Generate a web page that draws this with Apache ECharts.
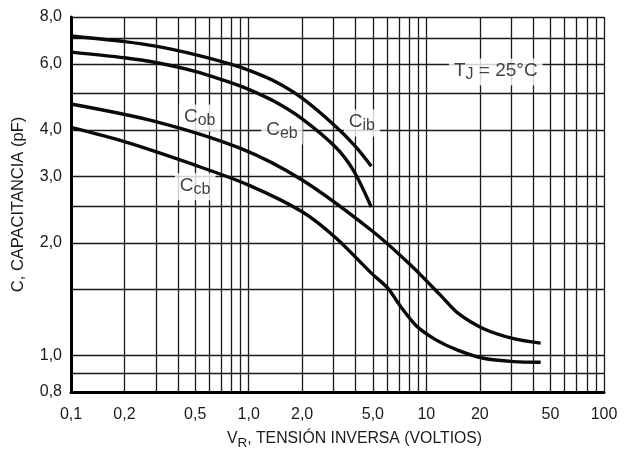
<!DOCTYPE html>
<html><head><meta charset="utf-8">
<script src="https://cdn.jsdelivr.net/npm/echarts@6/dist/echarts.min.js"></script>
<style>html,body{margin:0;padding:0;background:#fff}#c{width:624px;height:453px}</style>
</head><body><div id="c"></div>
<script>
// ---- data (V_R in volts, C in pF) ----
const cibV = [0.1, 0.2, 0.3, 0.5, 0.8, 1.0, 1.4, 2.0, 3.1, 4.0, 4.9];
const cibC = [7.12, 6.88, 6.69, 6.35, 5.98, 5.77, 5.39, 4.86, 4.08, 3.61, 3.20];
const cebV = [0.1, 0.2, 0.3, 0.5, 0.8, 1.0, 1.4, 2.0, 3.1, 3.9, 4.9];
const cebC = [6.45, 6.23, 6.05, 5.73, 5.34, 5.13, 4.76, 4.28, 3.59, 3.11, 2.49];
const cobV = [0.1, 0.3, 0.9, 2.0, 4.9, 8.1, 12, 15, 21, 31, 44];
const cobC = [4.69, 4.21, 3.57, 2.94, 2.16, 1.75, 1.45, 1.30, 1.18, 1.11, 1.08];
const ccbV = [0.1, 0.2, 0.5, 1.0, 2.0, 3.1, 4.9, 6.1, 7.1, 8.8, 11.4, 15, 21, 31, 44];
const ccbC = [4.06, 3.72, 3.22, 2.85, 2.42, 2.06, 1.66, 1.51, 1.36, 1.20, 1.10, 1.035, 0.984, 0.964, 0.96];

const xGridValues = [0.1,0.2,0.3,0.4,0.5,0.6,0.7,0.8,0.9,1,2,3,4,5,6,7,8,9,10,20,30,40,50,60,70,80,90,100];
const xLabelValues = [0.1, 0.2, 0.5, 1, 2, 5, 10, 20, 50, 100];
const xTickLabels = ['0,1','0,2','0,5','1,0','2,0','5,0','10','20','50','100'];
const yGridValues = [0.8, 0.9, 1.0, 1.5, 2.0, 2.5, 3, 4, 5, 6, 7, 8];
const yLabelValues = [0.8, 1, 2, 3, 4, 6, 8];
const yTickLabels = ['0,8','1,0','2,0','3,0','4,0','6,0','8,0'];

const curveNames = ['Cob', 'Ceb', 'Cib', 'Ccb'];
const curveLabelSub = ['ob', 'eb', 'ib', 'cb'];
const curveLabelV = [0.53, 1.54, 4.34, 0.50];
const curveLabelC = [4.30, 3.97, 4.17, 2.82];
const tempLabelV = 24.6, tempLabelC = 5.71;

const xTitle = 'TENSIÓN INVERSA (VOLTIOS)';
const yTitle = 'C, CAPACITANCIA (pF)';
// --------------------------------------

const FONT = 'Liberation Sans, Arial, sans-serif';
const L = Math.log10;
function pts(v, c) { return v.map((x, i) => [L(x), L(c[i])]); }
function labelFor(values, texts) {
  return function (val) {
    for (let i = 0; i < values.length; i++) if (Math.abs(L(values[i]) - val) < 1e-6) return texts[i];
    return '';
  };
}
const lineStyle = { color: '#0a0a0a', width: 3.4 };
function curve(name, v, c) {
  return { name, type: 'line', data: pts(v, c), smooth: 0.3, symbol: 'none', lineStyle, z: 5 };
}
const richSub = {
  m: { fontSize: 19, fontFamily: FONT, color: '#111', lineHeight: 21, verticalAlign: 'top' },
  s: { fontSize: 16, fontFamily: FONT, color: '#111', lineHeight: 16, verticalAlign: 'bottom', padding: [8, 0, 0, 0] }
};
const annData = curveNames.map((n, i) => ({
  value: [L(curveLabelV[i]), L(curveLabelC[i])],
  label: { formatter: '{m|C}{s|' + curveLabelSub[i] + '}' }
}));
annData.push({
  value: [L(tempLabelV), L(tempLabelC)],
  label: { formatter: '{m|T}{s|J}{m| = 25°C}' }
});

const chart = echarts.init(document.getElementById('c'));
chart.setOption({
  animation: false,
  backgroundColor: '#fff',
  grid: { left: 71, right: 20, top: 17, bottom: 61, containLabel: false, outerBoundsMode: 'none' },
  xAxis: {
    type: 'value', min: -1, max: 2,
    axisLine: { show: true, onZero: false, lineStyle: { color: '#000', width: 3 } },
    axisTick: { show: false, customValues: xGridValues.map(L) },
    splitLine: { show: true, lineStyle: { color: '#1a1a1a', width: 1.3 } },
    axisLabel: { customValues: xLabelValues.map(L), formatter: labelFor(xLabelValues, xTickLabels),
      fontSize: 16, fontFamily: FONT, color: '#1a1a1a', margin: 15 },
    name: '{n|V}{s|R}{n|, ' + xTitle + '}',
    nameLocation: 'middle', nameGap: 35,
    nameTextStyle: { padding: [0, 0, 0, 34], rich: {
      n: { fontSize: 15.8, fontFamily: FONT, color: '#1a1a1a', lineHeight: 19, verticalAlign: 'top' },
      s: { fontSize: 13.5, fontFamily: FONT, color: '#1a1a1a', lineHeight: 14, verticalAlign: 'bottom', padding: [8, 0, 0, 0] } } }
  },
  yAxis: {
    type: 'value', min: L(0.8), max: L(8),
    axisLine: { show: true, onZero: false, lineStyle: { color: '#000', width: 3 } },
    axisTick: { show: false, customValues: yGridValues.map(L) },
    splitLine: { show: true, lineStyle: { color: '#1a1a1a', width: 1.3 } },
    axisLabel: { customValues: yLabelValues.map(L), formatter: labelFor(yLabelValues, yTickLabels),
      fontSize: 16, fontFamily: FONT, color: '#1a1a1a', margin: 9 },
    name: yTitle, nameLocation: 'middle', nameGap: 44,
    nameTextStyle: { fontSize: 16.5, fontFamily: FONT, color: '#1a1a1a' }
  },
  series: [
    curve('Cib', cibV, cibC),
    curve('Ceb', cebV, cebC),
    curve('Cob', cobV, cobC),
    curve('Ccb', ccbV, ccbC),
    {
      type: 'scatter', symbolSize: 0, silent: true, z: 4,
      data: annData,
      label: { show: true, position: 'inside', backgroundColor: '#fff', padding: [3, 5, 3, 5], rich: richSub }
    }
  ]
});
</script></body></html>
